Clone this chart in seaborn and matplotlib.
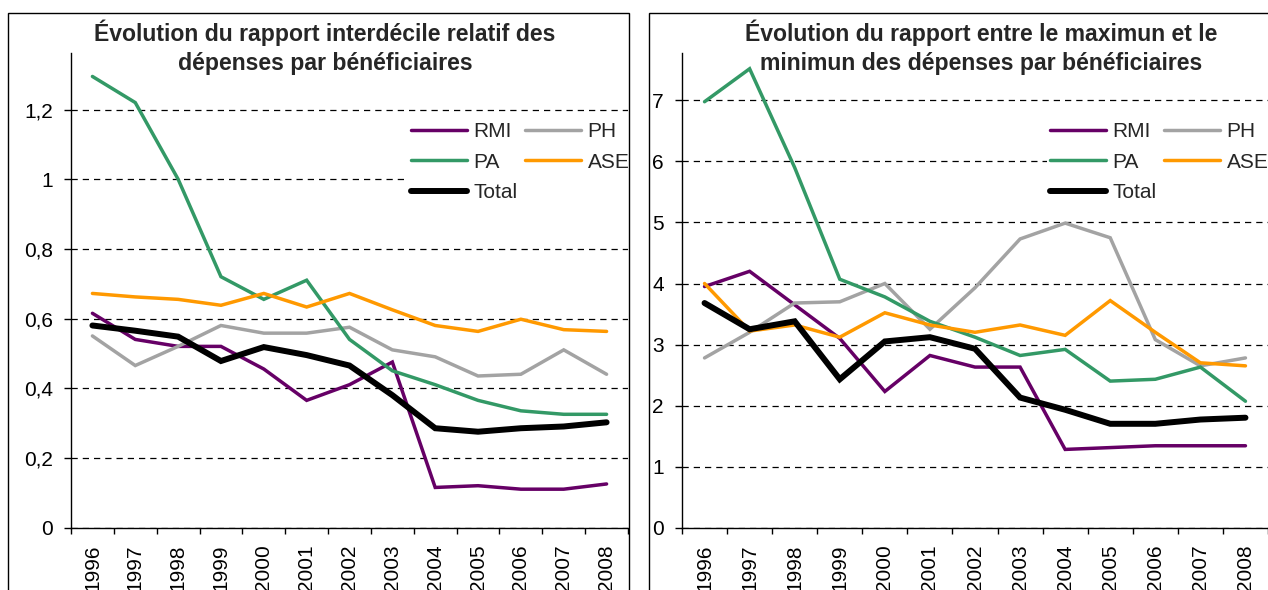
import numpy as np
import pandas as pd
import matplotlib
matplotlib.use("Agg")
import matplotlib.pyplot as plt
from matplotlib.lines import Line2D
from matplotlib.patches import Rectangle
from matplotlib.ticker import FixedLocator, FuncFormatter
import seaborn as sns

years = ["1996", "1997", "1998", "1999", "2000", "2001", "2002",
         "2003", "2004", "2005", "2006", "2007", "2008"]
series_names = ["RMI", "PH", "PA", "ASE", "Total"]

# Left panel: rapport interdécile relatif
left_rmi = [0.615, 0.54, 0.52, 0.52, 0.455, 0.365, 0.41, 0.475, 0.115, 0.12, 0.11, 0.11, 0.125]
left_ph = [0.55, 0.465, 0.52, 0.58, 0.558, 0.558, 0.575, 0.51, 0.49, 0.435, 0.44, 0.51, 0.44]
left_pa = [1.295, 1.22, 1.0, 0.72, 0.655, 0.71, 0.54, 0.45, 0.41, 0.365, 0.335, 0.325, 0.325]
left_ase = [0.672, 0.662, 0.655, 0.638, 0.672, 0.633, 0.672, 0.625, 0.58, 0.563, 0.598, 0.568, 0.563]
left_total = [0.58, 0.565, 0.548, 0.478, 0.518, 0.495, 0.465, 0.38, 0.285, 0.275, 0.285, 0.29, 0.302]

# Right panel: rapport max / min
right_rmi = [3.95, 4.2, 3.65, 3.1, 2.23, 2.82, 2.63, 2.63, 1.28, 1.31, 1.34, 1.34, 1.34]
right_ph = [2.78, 3.2, 3.68, 3.7, 4.0, 3.25, 3.93, 4.73, 4.99, 4.75, 3.08, 2.65, 2.78]
right_pa = [6.98, 7.52, 5.9, 4.07, 3.78, 3.38, 3.12, 2.82, 2.92, 2.4, 2.43, 2.63, 2.07]
right_ase = [4.0, 3.22, 3.32, 3.12, 3.52, 3.32, 3.2, 3.32, 3.15, 3.72, 3.2, 2.7, 2.65]
right_total = [3.68, 3.25, 3.38, 2.43, 3.05, 3.12, 2.93, 2.13, 1.93, 1.7, 1.7, 1.77, 1.8]

left_title = "Évolution du rapport interdécile relatif des\ndépenses par bénéficiaires"
right_title = "Évolution du rapport entre le maximun et le\nminimun des dépenses par bénéficiaires"
left_yticks = [0, 0.2, 0.4, 0.6, 0.8, 1.0, 1.2]
right_yticks = [0, 1, 2, 3, 4, 5, 6, 7]

colors = {"RMI": "#660066", "PH": "#A3A3A3", "PA": "#339966", "ASE": "#FF9900", "Total": "#000000"}
widths = {"RMI": 2.5, "PH": 2.5, "PA": 2.5, "ASE": 2.5, "Total": 4.3}

sns.set_theme(style="white")
plt.rcParams["font.family"] = ["Liberation Sans", "DejaVu Sans"]

W, H = 1268, 590
fig = plt.figure(figsize=(W / 100, H / 100), dpi=100)


def long_df(vals):
    rows = []
    for name, v in zip(series_names, vals):
        for y, val in zip(years, v):
            rows.append({"year": y, "value": val, "series": name})
    return pd.DataFrame(rows)


def fx(px):
    return px / W


def fy(py):
    return 1 - py / H


def draw_panel(ax, df, yticks, ytop, legend_anchor):
    sns.lineplot(data=df, x="year", y="value", hue="series", size="series",
                 hue_order=series_names, size_order=series_names,
                 palette=colors, sizes=widths, legend=False, ax=ax,
                 sort=False, zorder=3)
    for ln in ax.get_lines():
        ln.set_solid_capstyle("round")
        ln.set_solid_joinstyle("miter")
    ax.set_xlim(-0.5, len(years) - 0.5)
    ax.set_ylim(0, ytop)
    ax.set_xlabel("")
    ax.set_ylabel("")
    ax.set_xticks(range(len(years)))
    ax.set_xticklabels(years, rotation=90, fontsize=15)
    ax.xaxis.set_minor_locator(FixedLocator(np.arange(-0.5, len(years), 1.0)))
    ax.tick_params(axis="x", which="major", length=0, pad=12, labelsize=15, colors="black")
    ax.tick_params(axis="x", which="minor", length=4, width=1, direction="out",
                   color="black", bottom=True)
    ax.set_yticks(yticks)
    ax.yaxis.set_major_formatter(FuncFormatter(lambda v, p: f"{v:g}".replace(".", ",")))
    ax.tick_params(axis="y", which="major", length=5, width=1, direction="out",
                   pad=8, labelsize=15, colors="black", left=True)
    ax.set_facecolor("none")
    for s in ["top", "right"]:
        ax.spines[s].set_visible(False)
    for s in ["left", "bottom"]:
        ax.spines[s].set_color("black")
        ax.spines[s].set_linewidth(1)
    ax.set_axisbelow(True)
    ax.yaxis.grid(True, color="black", linestyle=(0, (5, 4)), linewidth=0.9)
    ax.xaxis.grid(False)

    handles = [Line2D([], [], color=colors[n], lw=widths[n], solid_capstyle="round")
               for n in series_names]
    order = [0, 2, 4, 1, 3]
    leg = ax.legend([handles[i] for i in order], [series_names[i] for i in order],
                    ncol=2, loc="upper left", bbox_to_anchor=legend_anchor,
                    bbox_transform=fig.transFigure, frameon=True, fontsize=15,
                    handlelength=2.7, handletextpad=0.3, columnspacing=0.35,
                    labelspacing=0.55, borderpad=0.15, borderaxespad=0)
    leg.get_frame().set_facecolor("white")
    leg.get_frame().set_edgecolor("none")
    leg.get_frame().set_alpha(1)
    leg.set_zorder(5)


bottom = fy(527.5)
height = (527.5 - 53) / H

ax1 = fig.add_axes([fx(71), bottom, fx(628 - 71), height])
draw_panel(ax1, long_df([left_rmi, left_ph, left_pa, left_ase, left_total]),
           left_yticks, 474.5 / 348.3, (fx(408), fy(119)))

ax2 = fig.add_axes([fx(682), bottom, fx(1268 - 682), height])
draw_panel(ax2, long_df([right_rmi, right_ph, right_pa, right_ase, right_total]),
           right_yticks, 474.5 / 61.0, (fx(1047), fy(119)))

# panel frames
fig.add_artist(Rectangle((fx(8), fy(600)), fx(629 - 8), (600 - 13) / H,
                         transform=fig.transFigure, fill=False, edgecolor="black",
                         lw=1.0, zorder=10))
fig.add_artist(Rectangle((fx(649), fy(600)), fx(1290 - 649), (600 - 13) / H,
                         transform=fig.transFigure, fill=False, edgecolor="black",
                         lw=1.0, zorder=10))

fig.text(fx(325), fy(47.5), left_title, ha="center", va="center", fontsize=16.6,
         fontweight="bold", linespacing=1.35)
fig.text(fx(981), fy(47.5), right_title, ha="center", va="center", fontsize=16.6,
         fontweight="bold", linespacing=1.35)

fig.savefig("out.png", dpi=100, facecolor="white")
